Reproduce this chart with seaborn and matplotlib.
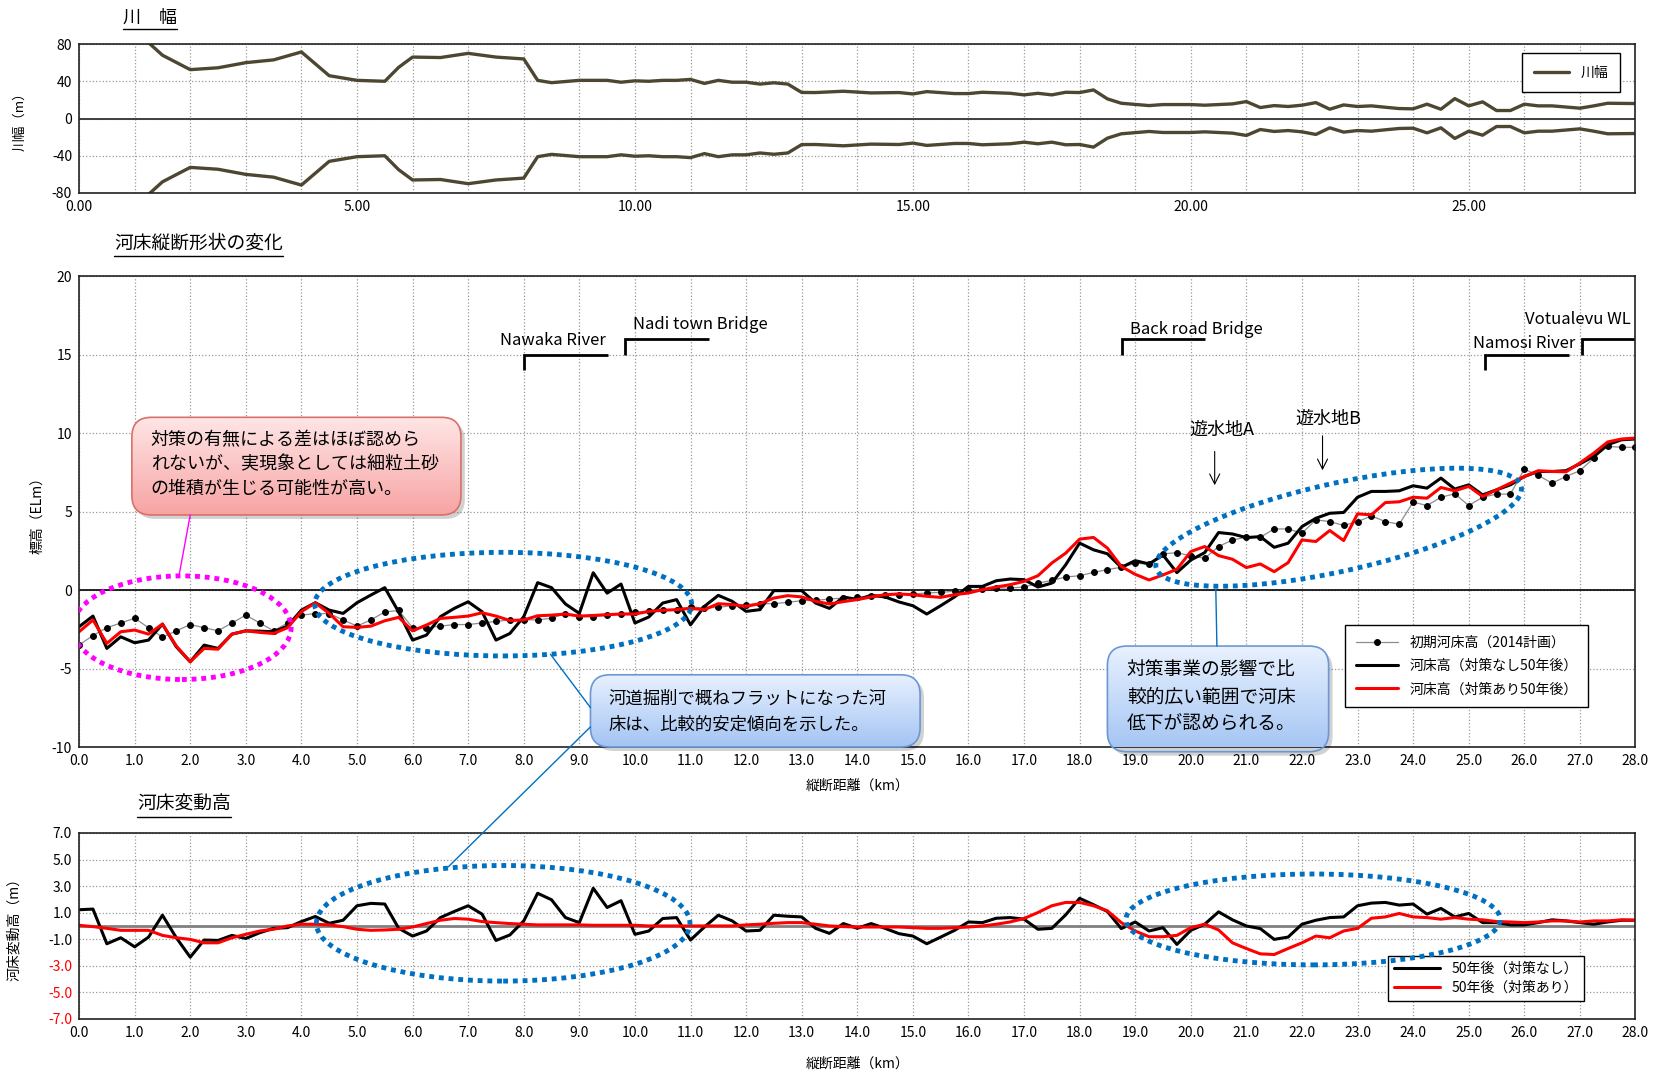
import numpy as np
import pandas as pd
import matplotlib
matplotlib.use("Agg")
import matplotlib.pyplot as plt
import seaborn as sns
from matplotlib.patches import FancyBboxPatch, Ellipse, ConnectionPatch
from matplotlib.colors import LinearSegmentedColormap
from matplotlib.transforms import Affine2D
from matplotlib.lines import Line2D

# --------------------------------------
# DATA
# --------------------------------------

# one cross section every 0.25 km, 0.0 - 28.0 km
dist_km = np.arange(113) * 0.25

bed_initial = [
    -3.50, -2.90, -2.40, -2.10, -1.80, -2.40, -3.00, -2.60,
    -2.20, -2.40, -2.60, -2.10, -1.60, -2.10, -2.60, -2.10,
    -1.60, -1.50, -1.50, -1.90, -2.30, -1.90, -1.40, -1.30,
    -2.40, -2.40, -2.30, -2.20, -2.20, -2.10, -2.00, -1.90,
    -1.90, -1.90, -1.80, -1.50, -1.70, -1.70, -1.60, -1.53,
    -1.42, -1.36, -1.29, -1.25, -1.08, -1.14, -1.10, -1.00,
    -0.93, -0.87, -0.87, -0.78, -0.68, -0.66, -0.57, -0.51,
    -0.47, -0.40, -0.34, -0.30, -0.25, -0.19, -0.15, -0.08,
    0.02, 0.06, 0.13, 0.13, 0.19, 0.44, 0.61, 0.83,
    0.91, 1.12, 1.30, 1.45, 1.70, 1.66, 2.30, 2.38,
    2.17, 2.02, 2.77, 3.19, 3.36, 3.36, 3.89, 3.89,
    3.62, 4.47, 4.36, 4.11, 4.36, 4.72, 4.36, 4.19,
    5.60, 5.38, 5.91, 6.13, 5.38, 5.91, 6.11, 6.11,
    7.70, 7.30, 6.81, 7.23, 7.60, 8.40, 9.15, 9.09,
    9.09,
]

bed_no_measure = [
    -2.34, -1.66, -3.72, -2.98, -3.36, -3.19, -2.17, -3.62,
    -4.57, -3.51, -3.72, -2.81, -2.60, -2.62, -2.66, -2.30,
    -1.28, -0.81, -1.28, -1.49, -0.81, -0.32, 0.15, -1.40,
    -3.19, -2.87, -1.70, -1.17, -0.75, -1.38, -3.19, -2.77,
    -1.70, 0.47, 0.15, -0.89, -1.49, 1.10, -0.20, 0.38,
    -2.10, -1.72, -0.83, -0.61, -2.22, -1.04, -0.34, -0.72,
    -1.36, -1.25, -0.04, -0.04, -0.04, -0.83, -1.17, -0.44,
    -0.61, -0.34, -0.44, -0.76, -1.00, -1.53, -1.00, -0.44,
    0.23, 0.23, 0.59, 0.70, 0.66, 0.19, 0.44, 1.61,
    2.99, 2.56, 2.31, 1.44, 1.87, 1.66, 2.23, 1.11,
    1.91, 2.38, 3.66, 3.57, 3.34, 3.40, 2.72, 2.98,
    4.04, 4.57, 4.89, 4.94, 5.91, 6.28, 6.28, 6.32,
    6.64, 6.49, 7.13, 6.43, 6.70, 6.06, 6.38, 6.70,
    7.23, 7.55, 7.55, 7.60, 8.04, 8.51, 9.26, 9.57,
    9.62,
]

bed_measure = [
    -2.66, -1.91, -3.40, -2.66, -2.55, -2.81, -2.17, -3.57,
    -4.57, -3.72, -3.77, -2.81, -2.60, -2.70, -2.77, -2.40,
    -1.38, -0.81, -1.49, -2.34, -2.38, -2.30, -1.96, -1.74,
    -2.60, -2.23, -1.81, -1.74, -1.66, -1.45, -1.66, -1.94,
    -1.91, -1.64, -1.60, -1.53, -1.66, -1.62, -1.57, -1.53,
    -1.53, -1.36, -1.29, -1.25, -1.17, -1.25, -0.87, -0.93,
    -1.04, -0.87, -0.51, -0.36, -0.44, -0.72, -0.89, -0.74,
    -0.61, -0.44, -0.30, -0.25, -0.30, -0.40, -0.47, -0.30,
    -0.19, 0.02, 0.19, 0.34, 0.55, 0.91, 1.72, 2.35,
    3.24, 3.35, 2.67, 1.50, 1.00, 0.64, 0.96, 1.32,
    2.45, 2.77, 2.19, 1.96, 1.43, 1.66, 1.17, 1.74,
    3.19, 3.09, 3.79, 3.15, 4.85, 4.79, 5.57, 5.62,
    5.91, 5.85, 6.53, 6.32, 6.60, 5.96, 6.38, 6.81,
    7.23, 7.60, 7.55, 7.53, 8.09, 8.72, 9.43, 9.62,
    9.68,
]

change_no_measure = [
    1.22, 1.27, -1.34, -0.89, -1.57, -0.84, 0.81, -0.89,
    -2.35, -1.06, -1.09, -0.71, -0.94, -0.51, -0.18, -0.13,
    0.33, 0.71, 0.20, 0.43, 1.52, 1.70, 1.65, -0.18,
    -0.76, -0.38, 0.63, 1.09, 1.52, 0.89, -1.09, -0.68,
    0.38, 2.46, 1.97, 0.63, 0.25, 2.84, 1.39, 1.90,
    -0.63, -0.38, 0.56, 0.63, -1.06, -0.08, 0.81, 0.38,
    -0.38, -0.33, 0.81, 0.73, 0.68, -0.18, -0.56, 0.18,
    -0.18, 0.18, -0.18, -0.58, -0.76, -1.34, -0.84, -0.33,
    0.30, 0.25, 0.58, 0.63, 0.51, -0.25, -0.18, 0.84,
    2.08, 1.60, 1.09, -0.20, 0.30, -0.38, -0.13, -1.39,
    -0.33, 0.13, 1.06, 0.46, 0.00, -0.20, -1.01, -0.84,
    0.13, 0.43, 0.63, 0.68, 1.52, 1.72, 1.77, 1.57,
    1.65, 0.89, 1.32, 0.68, 0.94, 0.25, 0.25, 0.08,
    0.08, 0.25, 0.46, 0.38, 0.25, 0.13, 0.30, 0.43,
    0.43,
]

change_measure = [
    0.05, -0.05, -0.18, -0.33, -0.33, -0.33, -0.71, -0.89,
    -1.01, -1.27, -1.27, -0.89, -0.63, -0.38, -0.25, 0.00,
    0.13, 0.13, 0.08, -0.05, -0.25, -0.33, -0.30, -0.25,
    -0.08, 0.18, 0.43, 0.56, 0.51, 0.33, 0.25, 0.18,
    0.13, 0.08, 0.08, 0.08, 0.08, 0.05, 0.05, 0.05,
    0.05, 0.00, 0.00, 0.00, 0.00, 0.00, 0.00, 0.00,
    0.08, 0.13, 0.20, 0.25, 0.25, 0.13, 0.00, -0.05,
    -0.08, -0.08, -0.08, -0.08, -0.13, -0.18, -0.18, -0.13,
    -0.08, 0.00, 0.13, 0.30, 0.56, 1.01, 1.52, 1.77,
    1.77, 1.52, 1.14, 0.25, -0.38, -0.81, -0.81, -0.71,
    -0.13, 0.13, -0.30, -1.27, -1.70, -2.10, -2.15, -1.70,
    -1.27, -0.76, -0.89, -0.38, -0.18, 0.58, 0.68, 0.94,
    0.68, 0.63, 0.51, 0.63, 0.51, 0.46, 0.33, 0.30,
    0.25, 0.30, 0.38, 0.38, 0.30, 0.38, 0.38, 0.46,
    0.43,
]

# river width (half width drawn on both banks)
width_km = [
    1.0, 1.5, 2.0, 2.5, 3.0, 3.5, 4.0, 4.5, 5.0, 5.5, 5.75, 6.0, 6.5, 7.0,
    7.5, 8.0, 8.25, 8.5, 9.0, 9.5, 9.75, 10.0, 10.25, 10.5, 10.75, 11.0,
    11.25, 11.5, 11.75, 12.0, 12.25, 12.5, 12.75, 13.0, 13.25, 13.75, 14.25,
    14.75, 15.0, 15.25, 15.75, 16.0, 16.25, 16.75, 17.0, 17.25, 17.5, 17.75,
    18.0, 18.25, 18.5, 18.75, 19.25, 19.5, 20.0, 20.25, 20.75, 21.0, 21.25,
    21.5, 21.75, 22.0, 22.25, 22.5, 22.75, 23.0, 23.25, 23.5, 23.75, 24.0,
    24.25, 24.5, 24.75, 25.0, 25.25, 25.5, 25.75, 26.0, 26.25, 26.5, 27.0,
    27.25, 27.5, 28.0,
]
width_half = [
    95, 68, 52.5, 54.5, 60, 63, 71.5, 46, 41, 40, 55, 66, 65.5, 70,
    66, 64, 41, 38.5, 41, 41, 39, 40.5, 40, 41, 41, 42,
    37.7, 41, 39, 39, 37, 38.4, 37, 28, 27.9, 29.3, 27.5,
    27.9, 26.4, 28.9, 26.8, 26.8, 28.2, 27.1, 25.4, 27.1, 25.4, 28.2,
    27.9, 30.7, 21.1, 16.4, 13.9, 15, 15, 14.3, 15.7, 18.2, 11.8,
    13.9, 12.9, 14.3, 17.1, 10, 14.6, 12.9, 13.6, 12.1, 10.7, 10.4,
    15.4, 10, 21.4, 13.6, 17.9, 8.6, 8.6, 15.4, 13.6, 13.6, 11.1,
    13.6, 16.4, 16.1,
]

# landmarks: name, bracket km, bracket end km, bracket low / high, text x, text y
landmarks = [
    ("Nawaka River", 8.0, 9.51, 14.0, 15.0, 7.57, 15.9),
    ("Nadi town Bridge", 9.83, 11.34, 15.0, 16.0, 9.97, 16.9),
    ("Back road Bridge", 18.76, 20.25, 15.0, 16.0, 18.9, 16.6),
    ("Namosi River", 25.29, 26.8, 14.0, 15.0, 25.08, 15.7),
    ("Votualevu WL", 27.03, 28.0, 15.0, 16.0, 26.02, 17.2),
]

# --------------------------------------
# STYLE
# --------------------------------------

sns.set_theme(style="white")
plt.rcParams["font.family"] = ["Noto Sans CJK JP", "DejaVu Sans"]
plt.rcParams["axes.unicode_minus"] = False
for k in ["text.color", "axes.labelcolor", "xtick.color", "ytick.color", "axes.edgecolor"]:
    plt.rcParams[k] = "black"

WIDTH_COL = "#4d4732"
BLUE = "#0070C0"
GRID = dict(color="#9a9a9a", linestyle=":", linewidth=0.9)

fig = plt.figure(figsize=(16.54, 10.77), dpi=100)
ax_w = fig.add_axes([0.0478, 0.8208, 0.941, 0.1383])
ax_m = fig.add_axes([0.0478, 0.3064, 0.941, 0.4373])
ax_b = fig.add_axes([0.0478, 0.0539, 0.941, 0.1727])

# --------------------------------------
# RIVER WIDTH
# --------------------------------------

df_w = pd.DataFrame({"km": width_km, "upper": width_half,
                     "lower": [-v for v in width_half]})
sns.lineplot(data=df_w, x="km", y="upper", ax=ax_w, color=WIDTH_COL, lw=2.4, label="川幅")
sns.lineplot(data=df_w, x="km", y="lower", ax=ax_w, color=WIDTH_COL, lw=2.4)

ax_w.set_xlim(0, 28)
ax_w.set_ylim(-80, 80)
ax_w.set_yticks([-80, -40, 0, 40, 80])
ax_w.set_xticks(range(0, 26, 5))
ax_w.set_xticklabels([f"{v:.2f}" for v in range(0, 26, 5)])
ax_w.set_xticks(range(0, 29), minor=True)
ax_w.grid(True, axis="x", which="both", **GRID)
ax_w.grid(True, axis="y", which="major", **GRID)
ax_w.axhline(0, color="#333333", lw=1.3)
ax_w.set_xlabel("")
ax_w.set_ylabel("川幅（m）", fontsize=9.5)
ax_w.yaxis.set_label_coords(-0.034, 0.5)
leg = ax_w.legend(loc="upper left", bbox_to_anchor=(0.927, 0.94), frameon=True, fancybox=False,
                  edgecolor="black", fontsize=10, handlelength=2.5, borderpad=0.9,
                  borderaxespad=0, framealpha=1)
leg.get_frame().set_linewidth(1.0)

# --------------------------------------
# BED PROFILE
# --------------------------------------

df_m = pd.DataFrame({"km": dist_km, "init": bed_initial,
                     "none": bed_no_measure, "with": bed_measure})
sns.lineplot(data=df_m, x="km", y="init", ax=ax_m, color="#8c8c8c", lw=0.9,
             marker="o", markersize=4.2, markerfacecolor="black", markeredgecolor="black",
             label="初期河床高（2014計画）")
sns.lineplot(data=df_m, x="km", y="none", ax=ax_m, color="black", lw=2.2,
             label="河床高（対策なし50年後）")
sns.lineplot(data=df_m, x="km", y="with", ax=ax_m, color="#ff0000", lw=2.2,
             label="河床高（対策あり50年後）")

ax_m.axhline(0, color="black", lw=1.2, zorder=1)

for name, x0, x1, ylo, yhi, tx, ty in landmarks:
    ax_m.plot([x0, x0, x1], [ylo, yhi, yhi], color="black", lw=2,
              solid_joinstyle="miter", solid_capstyle="butt")
    ax_m.text(tx, ty, name, fontsize=12, ha="left", va="center")

for lbl, tx, ty, ax0, ay0, ay1 in [("遊水地A", 20.56, 10.2, 20.43, 9.0, 6.5),
                                   ("遊水地B", 22.48, 10.9, 22.37, 10.0, 7.45)]:
    ax_m.text(tx, ty, lbl, fontsize=13, ha="center", va="center")
    ax_m.annotate("", xy=(ax0, ay1), xytext=(ax0, ay0),
                  arrowprops=dict(arrowstyle="->", lw=0.8, color="black", mutation_scale=18))

dots = dict(fill=False, lw=3.5, linestyle=(0, (1, 1)), capstyle="butt", zorder=7)
ax_m.add_patch(Ellipse((1.85, -2.4), 3.93, 6.6, ec="#ff00ff", **dots))
ax_m.add_patch(Ellipse((7.63, -0.9), 6.78, 6.6, ec=BLUE, **dots))

px_km = 0.941 * 1654 / 28
px_m = 0.4373 * 1077 / 30
tilted = Ellipse((0, 0), 2 * 187, 2 * 44, angle=12.5, ec=BLUE, **dots)
tilted.set_transform(Affine2D().scale(1 / px_km, 1 / px_m).translate(22.66, 4.0) + ax_m.transData)
ax_m.add_patch(tilted)


def callout(ax, x0, y0, x1, y1, top, bottom, edge, lines, tx, ty, size, spacing):
    aspect = px_km / px_m
    shadow = FancyBboxPatch((x0 + 0.07, y0 - 0.25), x1 - x0, y1 - y0,
                            boxstyle="round,pad=0,rounding_size=0.35", mutation_aspect=aspect,
                            fc="#000000", ec="none", alpha=0.18, zorder=8, clip_on=False)
    ax.add_patch(shadow)
    box = FancyBboxPatch((x0, y0), x1 - x0, y1 - y0,
                         boxstyle="round,pad=0,rounding_size=0.35", mutation_aspect=aspect,
                         fc="none", ec=edge, lw=1.2, zorder=10, clip_on=False)
    ax.add_patch(box)
    grad = np.linspace(0, 1, 256)[:, None]
    cmap = LinearSegmentedColormap.from_list("g", [top, bottom])
    im = ax.imshow(grad, extent=(x0, x1, y0, y1), origin="upper", cmap=cmap,
                   aspect="auto", zorder=9)
    im.set_clip_path(box)
    im.set_clip_box(None)
    ax.text(tx, ty, "\n".join(lines), fontsize=size, ha="left", va="center",
            linespacing=spacing, zorder=11)


callout(ax_m, 0.95, 4.78, 6.87, 11.0, "#ffe6e6", "#f7a3a3", "#d9706a",
        ["対策の有無による差はほぼ認めら", "れないが、実現象としては細粒土砂", "の堆積が生じる可能性が高い。"],
        1.29, 8.0, 13, 1.45)
callout(ax_m, 9.2, -10.0, 15.13, -5.4, "#e8f1ff", "#a3c4f3", "#6b98d4",
        ["河道掘削で概ねフラットになった河", "床は、比較的安定傾向を示した。"],
        9.53, -7.75, 12.5, 1.6)
callout(ax_m, 18.5, -10.3, 22.48, -3.57, "#e8f1ff", "#a3c4f3", "#6b98d4",
        ["対策事業の影響で比", "較的広い範囲で河床", "低下が認められる。"],
        18.85, -6.8, 13.5, 1.42)

ax_m.set_xlim(0, 28)
ax_m.set_ylim(-10, 20)
ax_m.set_yticks(range(-10, 21, 5))
ax_m.set_xticks(range(0, 29))
ax_m.set_xticklabels([f"{v:.1f}" for v in range(0, 29)])
ax_m.grid(True, **GRID)
ax_m.set_xlabel("縦断距離（km）", fontsize=10)
ax_m.xaxis.set_label_coords(0.5, -0.068)
ax_m.set_ylabel("標高（ELm）", fontsize=10)
ax_m.yaxis.set_label_coords(-0.0225, 0.5)
leg = ax_m.legend(loc="upper left", bbox_to_anchor=(0.8136, 0.259), frameon=True,
                  fancybox=False, edgecolor="black", fontsize=10, handlelength=3.0,
                  labelspacing=0.65, borderpad=0.8, borderaxespad=0, framealpha=1)
leg.get_frame().set_linewidth(1.0)

# --------------------------------------
# BED CHANGE
# --------------------------------------

df_b = pd.DataFrame({"km": dist_km, "none": change_no_measure, "with": change_measure})
sns.lineplot(data=df_b, x="km", y="none", ax=ax_b, color="black", lw=2.2, label="50年後（対策なし）")
sns.lineplot(data=df_b, x="km", y="with", ax=ax_b, color="#ff0000", lw=2.2, label="50年後（対策あり）")
ax_b.axhline(0, color="#808080", lw=2, zorder=1)

ax_b.add_patch(Ellipse((7.63, 0.2), 6.72, 8.7, ec=BLUE, **dots))
ax_b.add_patch(Ellipse((22.2, 0.49), 6.73, 6.84, ec=BLUE, **dots))

yt = [-7, -5, -3, -1, 1, 3, 5, 7]
ax_b.set_xlim(0, 28)
ax_b.set_ylim(-7, 7)
ax_b.set_yticks(yt)
ax_b.set_yticklabels([f"{v:.1f}" for v in yt])
for lbl, v in zip(ax_b.get_yticklabels(), yt):
    if v < -2:
        lbl.set_color("#ff0000")
ax_b.set_xticks(range(0, 29))
ax_b.set_xticklabels([f"{v:.1f}" for v in range(0, 29)])
ax_b.grid(True, **GRID)
ax_b.set_xlabel("縦断距離（km）", fontsize=10)
ax_b.xaxis.set_label_coords(0.5, -0.205)
ax_b.set_ylabel("河床変動高（m）", fontsize=10)
ax_b.yaxis.set_label_coords(-0.037, 0.5)
leg = ax_b.legend(loc="upper left", bbox_to_anchor=(0.841, 0.339), frameon=True,
                  fancybox=False, edgecolor="black", fontsize=10, handlelength=3.3,
                  labelspacing=0.35, borderpad=0.45, borderaxespad=0, framealpha=1)
leg.get_frame().set_linewidth(1.0)

for ax in [ax_w, ax_m, ax_b]:
    ax.tick_params(axis="both", which="both", length=0, labelsize=10, pad=5)
    for s in ax.spines.values():
        s.set_linewidth(1.2)
        s.set_color("#222222")

# --------------------------------------
# CALLOUT LINES
# --------------------------------------

pointer_lines = [
    ((2.0, 4.78), ax_m, (1.8, 0.95), ax_m, "#ff00ff"),
    ((8.48, -4.09), ax_m, (9.2, -7.49), ax_m, BLUE),
    ((9.2, -8.72), ax_m, (6.64, 4.44), ax_b, BLUE),
    ((20.45, 0.05), ax_m, (20.47, -3.57), ax_m, BLUE),
    ((20.64, -10.3), ax_m, (20.36, 3.55), ax_b, BLUE),
]
for pa, axa, pb, axb, col in pointer_lines:
    con = ConnectionPatch(xyA=pa, coordsA="data", axesA=axa, xyB=pb, coordsB="data",
                          axesB=axb, color=col, lw=1.0, zorder=12)
    fig.add_artist(con)

# --------------------------------------
# PANEL TITLES
# --------------------------------------

titles = [("川　幅", 123, 18, 13), ("河床縦断形状の変化", 114, 243, 13.5), ("河床変動高", 137, 804, 13.5)]
title_artists = []
for txt, x, y, size in titles:
    title_artists.append(fig.text(x / 1654, 1 - y / 1077, txt, fontsize=size, va="center", ha="left"))

fig.canvas.draw()
renderer = fig.canvas.get_renderer()
for t in title_artists:
    bb = t.get_window_extent(renderer).transformed(fig.transFigure.inverted())
    fig.add_artist(Line2D([bb.x0, bb.x1], [bb.y0 - 0.002, bb.y0 - 0.002],
                          transform=fig.transFigure, color="black", lw=1.0))

plt.savefig("out.png", dpi=100)
